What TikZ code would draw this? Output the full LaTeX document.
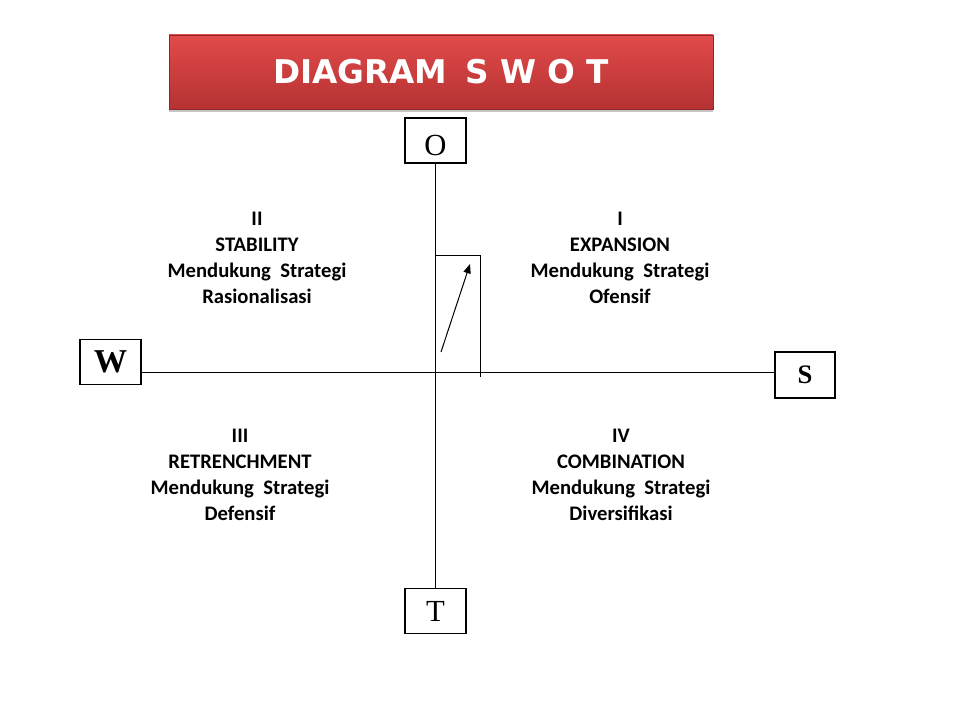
\documentclass[tikz,border=0pt]{standalone}
\usepackage{fontspec}
\setmainfont{Carlito}
\newfontfamily\titlefont{DejaVu Sans}
\newfontfamily\serifont{Liberation Serif}
\usetikzlibrary{shadows,arrows.meta}
\definecolor{redtop}{HTML}{E24A4A}
\definecolor{redbot}{HTML}{B53232}
\tikzset{
  letterbox/.style={draw, line width=0.8pt, minimum width=61*0.75pt, minimum height=45*0.75pt, inner sep=0pt, font=\serifont\fontsize{23}{23}\selectfont},
  quad/.style={align=center, font=\bfseries\fontsize{15.5}{19.5}\selectfont},
  axis/.style={line width=0.75pt},
}
\begin{document}
\begin{tikzpicture}[x=0.75pt,y=-0.75pt]
\useasboundingbox (0,0) rectangle (960,720);
\fill[white] (0,0) rectangle (960,720);
\node[minimum width=544*0.75pt, minimum height=74*0.75pt, top color=redtop, bottom color=redbot, draw=redbot!80!black, line width=0.4pt,
      drop shadow={opacity=0.45, shadow xshift=0pt, shadow yshift=-2.5pt},
      font=\titlefont\bfseries\fontsize{24.5}{24.5}\selectfont, text=white] (title) at (441,72) {DIAGRAM\hspace{0.55em}S W O T};
\coordinate (c) at (435,372);
\node[letterbox] (O) at (435.5,140.5) {\raisebox{-3.5pt}[\height][\depth]{O}};
\node[letterbox] (T) at (435.5,611) {T};
\node[letterbox, font=\serifont\bfseries\fontsize{25}{25}\selectfont] (W) at (110.5,362) {W};
\node[letterbox, minimum width=60*0.75pt, minimum height=46*0.75pt, font=\serifont\bfseries\fontsize{20}{20}\selectfont] (S) at (805,375) {S};
\draw[axis] (O.south -| c) -- (T.north -| c);
\draw[axis] (W.east |- c) -- (S.west |- c);
\coordinate (r1) at (435,256);
\coordinate (r2) at (480,256);
\coordinate (r3) at (480,377);
\draw[axis] (r1) -- (r2) -- (r3);
\coordinate (a1) at (441,352);
\coordinate (a2) at (470,264);
\draw[axis, -{Triangle[length=7pt,width=5.5pt]}] (a1) -- (a2);
\node[quad] (q2) at (257,258) {II\\STABILITY\\Mendukung\ \ Strategi\\Rasionalisasi};
\node[quad] (q1) at (620,258) {I\\EXPANSION\\Mendukung\ \ Strategi\\Ofensif};
\node[quad] (q3) at (240,475) {III\\RETRENCHMENT\\Mendukung\ \ Strategi\\Defensif};
\node[quad] (q4) at (621,475) {IV\\COMBINATION\\Mendukung\ \ Strategi\\Diversifikasi};
\end{tikzpicture}
\end{document}
